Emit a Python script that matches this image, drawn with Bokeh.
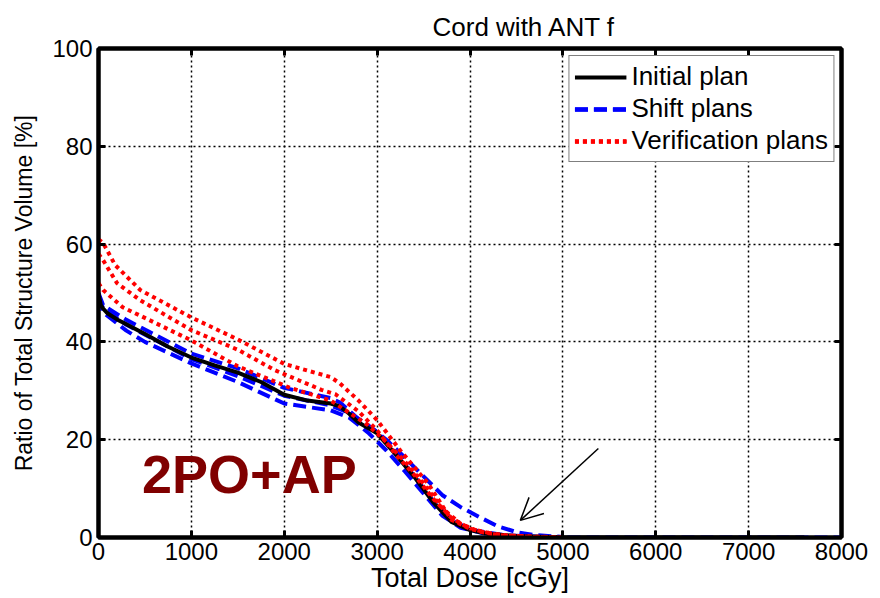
from bokeh.plotting import figure
from bokeh.models import (Range1d, LinearAxis, Legend, LegendItem, Arrow, OpenHead,
                          Label, FixedTicker)
from bokeh.embed import file_html
from bokeh.resources import INLINE

FONT = "Liberation Sans"

# ---------------- data ----------------
initial_dose = [0, 25, 50, 100, 200, 300, 500, 750, 1000, 1250, 1500, 1750, 2000, 2250,
                2500, 2600, 2700, 2800, 3000, 3200, 3400, 3600, 3800, 4000, 4200, 4500,
                5000, 7600]
initial_vol = [50, 47.5, 46.8, 45.8, 44.6, 43.6, 41.6, 39.0, 36.8, 35.2, 33.7, 31.8, 29.2,
               28.0, 27.4, 26.8, 25.3, 23.5, 21.3, 17.0, 12.4, 7.3, 3.2, 1.5, 0.7, 0.3,
               0, 0]

shift1_dose = [0, 50, 300, 500, 1000, 1500, 2000, 2500, 2700, 2900, 3100, 3300, 3500, 3700,
               3900, 4200, 4600, 5000, 8000]
shift1_vol = [49, 46, 42.3, 40, 35.6, 31.8, 27.4, 26, 24.5, 21.5, 17.8, 13.5, 9, 4.5,
              2, 0.6, 0.1, 0, 0]
shift2_dose = [0, 50, 300, 1000, 1500, 2000, 2500, 2600, 2800, 3000, 3200, 3400, 3600,
               3800, 4000, 4400, 5000]
shift2_vol = [50, 47.5, 44.5, 37.6, 34.6, 30.6, 28.5, 27.6, 24.2, 21.6, 17.2, 12.6, 7.6,
              3.6, 1.6, 0.4, 0]
shift3_dose = [0, 50, 300, 1000, 1500, 2000, 2500, 2700, 2900, 3100, 3300, 3500, 3700,
               3900, 4100, 4300, 4500, 4700, 5000]
shift3_vol = [49.5, 46.8, 43.5, 36.5, 33, 29, 27, 25.5, 23, 20, 16.3, 12.5, 8.7, 6.2, 4.2,
              2.3, 1.1, 0.5, 0.1]

verif1_dose = [0, 50, 180, 450, 1000, 1500, 2000, 2200, 2500, 2600, 2800, 3000, 3250,
               3550, 3800, 4000, 4200, 4500, 5000]
verif1_vol = [61, 60.2, 55.7, 50.6, 45, 40.5, 35.5, 34.4, 32.8, 31.5, 28, 24, 17.8, 11,
              3.6, 1.8, 0.8, 0.2, 0]
verif2_dose = [0, 50, 200, 450, 1000, 1500, 1900, 2400, 2550, 2800, 3000, 3200, 3400,
               3600, 3800, 4000, 4300, 4700, 5000]
verif2_vol = [58, 56.7, 52, 48.5, 42.4, 38.4, 34.2, 30.2, 29.3, 25.8, 21.9, 17, 12.8, 8,
              4, 1.8, 0.5, 0.1, 0]
verif3_dose = [0, 50, 260, 1000, 1500, 2050, 2500, 2700, 2900, 3100, 3300, 3500, 3700,
               3900, 4100, 4400, 5000]
verif3_vol = [52, 50.6, 47.1, 40.3, 35, 30.7, 28, 25.5, 23, 19.5, 15.5, 11, 6, 2.8, 1.2,
              0.4, 0]

x_ticks = [0, 1000, 2000, 3000, 4000, 5000, 6000, 7000, 8000]
y_ticks = [0, 20, 40, 60, 80, 100]

title_text = "Cord with ANT f"
x_label = "Total Dose [cGy]"
y_label = "Ratio of Total Structure Volume [%]"
legend_labels = ["Initial plan", "Shift plans", "Verification plans"]
technique_text = "2PO+AP"
technique_pos = (469, 12.9)
arrow_start = (5382, 18.2)
arrow_end = (4542, 3.5)

# ---------------- figure ----------------
p = figure(width=880, height=598, x_range=Range1d(0, 8000), y_range=Range1d(0, 100),
           output_backend="svg", toolbar_location=None,
           min_border_left=98, min_border_right=39, min_border_top=48,
           min_border_bottom=61)
p.background_fill_color = "white"
p.border_fill_color = "white"
p.outline_line_color = "black"
p.outline_line_width = 4

p.title.text = title_text
p.title.text_font = FONT
p.title.text_font_size = "26px"
p.title.text_font_style = "normal"
p.title.text_color = "black"
p.title.align = "left"
p.title.offset = 334
p.title.standoff = 14

p.add_layout(LinearAxis(), "above")
p.add_layout(LinearAxis(), "right")

for ax in p.xaxis:
    ax.ticker = FixedTicker(ticks=x_ticks)
for ax in p.yaxis:
    ax.ticker = FixedTicker(ticks=y_ticks)

for ax in p.axis:
    ax.axis_line_width = 4
    ax.axis_line_color = "black"
    ax.major_tick_in = 7
    ax.major_tick_out = 0
    ax.major_tick_line_width = 3
    ax.minor_tick_line_color = None
    ax.major_label_text_font = FONT
    ax.major_label_text_font_size = "24px"
    ax.major_label_text_color = "black"

p.above[-1].major_label_text_font_size = "0px"
p.above[-1].major_label_standoff = 0
p.right[-1].major_label_text_font_size = "0px"
p.right[-1].major_label_standoff = 0

xa = p.below[0]
xa.axis_label = x_label
xa.axis_label_text_font = FONT
xa.axis_label_text_font_size = "27px"
xa.axis_label_text_font_style = "normal"
xa.axis_label_text_color = "black"
xa.axis_label_standoff = 0
xa.major_label_standoff = 5

ya = p.left[0]
ya.axis_label = y_label
ya.axis_label_text_font = FONT
ya.axis_label_text_font_size = "23px"
ya.axis_label_text_font_style = "normal"
ya.axis_label_text_color = "black"
ya.axis_label_standoff = 12
ya.major_label_standoff = 6

for g in (p.xgrid, p.ygrid):
    g.grid_line_color = "black"
    g.grid_line_dash = "2 3"
    g.grid_line_width = 1.5

# ---------------- curves ----------------
blue_r = []
for d, v in ((shift1_dose, shift1_vol), (shift2_dose, shift2_vol), (shift3_dose, shift3_vol)):
    blue_r.append(p.line(d, v, line_color="#0000FF", line_width=4, line_dash="13 6"))

black_r = p.line(initial_dose, initial_vol, line_color="black", line_width=4)

red_r = []
for d, v in ((verif1_dose, verif1_vol), (verif2_dose, verif2_vol), (verif3_dose, verif3_vol)):
    red_r.append(p.line(d, v, line_color="#FF0000", line_width=4, line_dash="4 4"))

legend = Legend(items=[LegendItem(label=legend_labels[0], renderers=[black_r]),
                       LegendItem(label=legend_labels[1], renderers=blue_r),
                       LegendItem(label=legend_labels[2], renderers=red_r)],
                location="top_right", margin=7, padding=5, spacing=1,
                label_height=30, glyph_height=30, glyph_width=52, label_standoff=5,
                label_text_font=FONT, label_text_font_size="26px",
                label_text_color="black",
                border_line_color="black", border_line_width=1.2,
                background_fill_color="white", background_fill_alpha=1)
p.add_layout(legend, "center")

p.add_layout(Label(x=technique_pos[0], y=technique_pos[1], text=technique_text,
                   text_font=FONT, text_font_size="54px", text_font_style="bold",
                   text_color="#800000", text_baseline="alphabetic"))

p.add_layout(Arrow(x_start=arrow_start[0], y_start=arrow_start[1],
                   x_end=arrow_end[0], y_end=arrow_end[1], line_width=1.5,
                   line_color="black",
                   end=OpenHead(size=22, line_width=1.5, line_color="black")))

open("out.html", "w").write(file_html(p, INLINE))
